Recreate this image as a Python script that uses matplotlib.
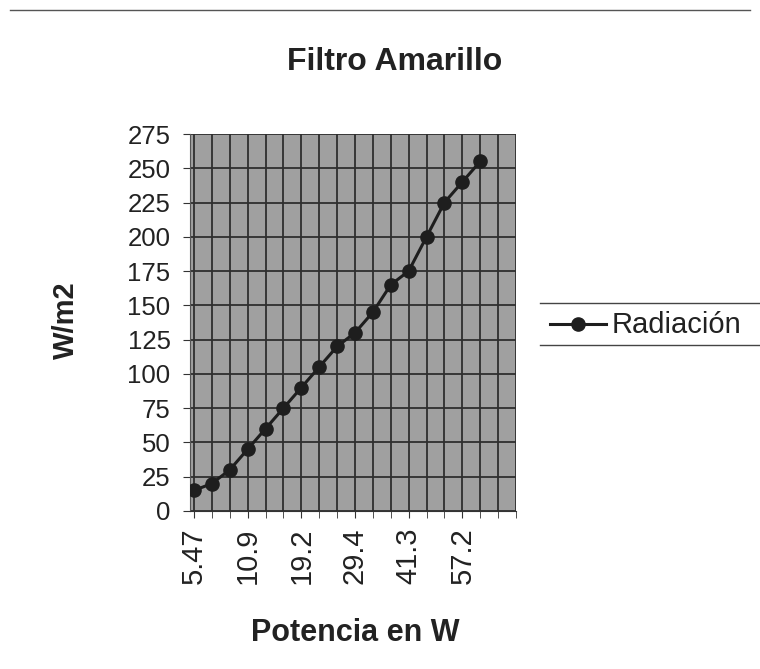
import matplotlib
matplotlib.use("Agg")
import matplotlib.pyplot as plt
from matplotlib.lines import Line2D

plt.rcParams['font.family'] = ['Liberation Sans', 'DejaVu Sans']

title = "Filtro Amarillo"
series_name = "Radiación"
radiation = [15, 20, 30, 45, 60, 75, 90, 105, 120, 130, 145, 165, 175, 200, 225, 240, 255]
n_categories = 19
tick_labels = ["5.47", "10.9", "19.2", "29.4", "41.3", "57.2"]
tick_step = 3
y_ticks = list(range(0, 276, 25))

W, H = 760, 669
fig = plt.figure(figsize=(W / 100, H / 100), dpi=100)
ax = fig.add_axes([190 / W, 1 - 511 / H, (516 - 190) / W, (511 - 134) / H])
ax.set_facecolor('#a0a0a0')

x = list(range(len(radiation)))
ax.plot(x, radiation, color='#1e1e1e', lw=2.2, marker='o', ms=9.5,
        mfc='#1e1e1e', mec='#1e1e1e', zorder=3)

ax.set_xlim(-0.22, n_categories - 1.05)
ax.set_ylim(0, 275)
ax.set_yticks(y_ticks)
ax.set_yticklabels([str(v) for v in y_ticks], fontsize=18.5, color='#222222')
ax.set_xticks(list(range(0, n_categories, 1)), minor=True)
ax.set_xticks([i * tick_step for i in range(len(tick_labels))])
ax.set_xticklabels(tick_labels, rotation=90, fontsize=21, color='#222222')
ax.grid(True, which='both', axis='x', color='#2e2e2e', lw=1.3)
ax.grid(True, which='major', axis='y', color='#2e2e2e', lw=1.3)
ax.set_axisbelow(True)
ax.tick_params(axis='y', length=5, color='#333333', pad=9)
ax.tick_params(axis='x', which='both', length=5, color='#333333', pad=7)
for s in ['top', 'right']:
    ax.spines[s].set_visible(False)
ax.spines['left'].set_color('#555555')
ax.spines['bottom'].set_color('#333333')

fig.text(395 / W, 1 - 62 / H, title, fontsize=23, fontweight='bold',
         ha='center', va='center', color='#222222')
fig.text(66 / W, 1 - 320 / H, "W/m2", fontsize=21, fontweight='bold',
         rotation=90, ha='center', va='center', color='#222222')
fig.text(355 / W, 1 - 633 / H, "Potencia en W", fontsize=22, fontweight='bold',
         ha='center', va='center', color='#222222')

# legend
fig.add_artist(Line2D([540 / W, 760 / W], [1 - 303 / H, 1 - 303 / H], color='#444444', lw=1))
fig.add_artist(Line2D([540 / W, 760 / W], [1 - 345 / H, 1 - 345 / H], color='#444444', lw=1))
fig.add_artist(Line2D([550 / W, 606 / W], [1 - 324 / H, 1 - 324 / H], color='#1e1e1e', lw=2.2))
fig.add_artist(Line2D([578 / W], [1 - 324 / H], color='#1e1e1e', marker='o', ms=9.5, lw=0))
fig.text(612 / W, 1 - 325 / H, series_name, fontsize=21, ha='left', va='center', color='#222222')

# scan border line at top
fig.add_artist(Line2D([10 / W, 750 / W], [1 - 10 / H, 1 - 10 / H], color='#555555', lw=1))

fig.savefig("out.png", dpi=100)
